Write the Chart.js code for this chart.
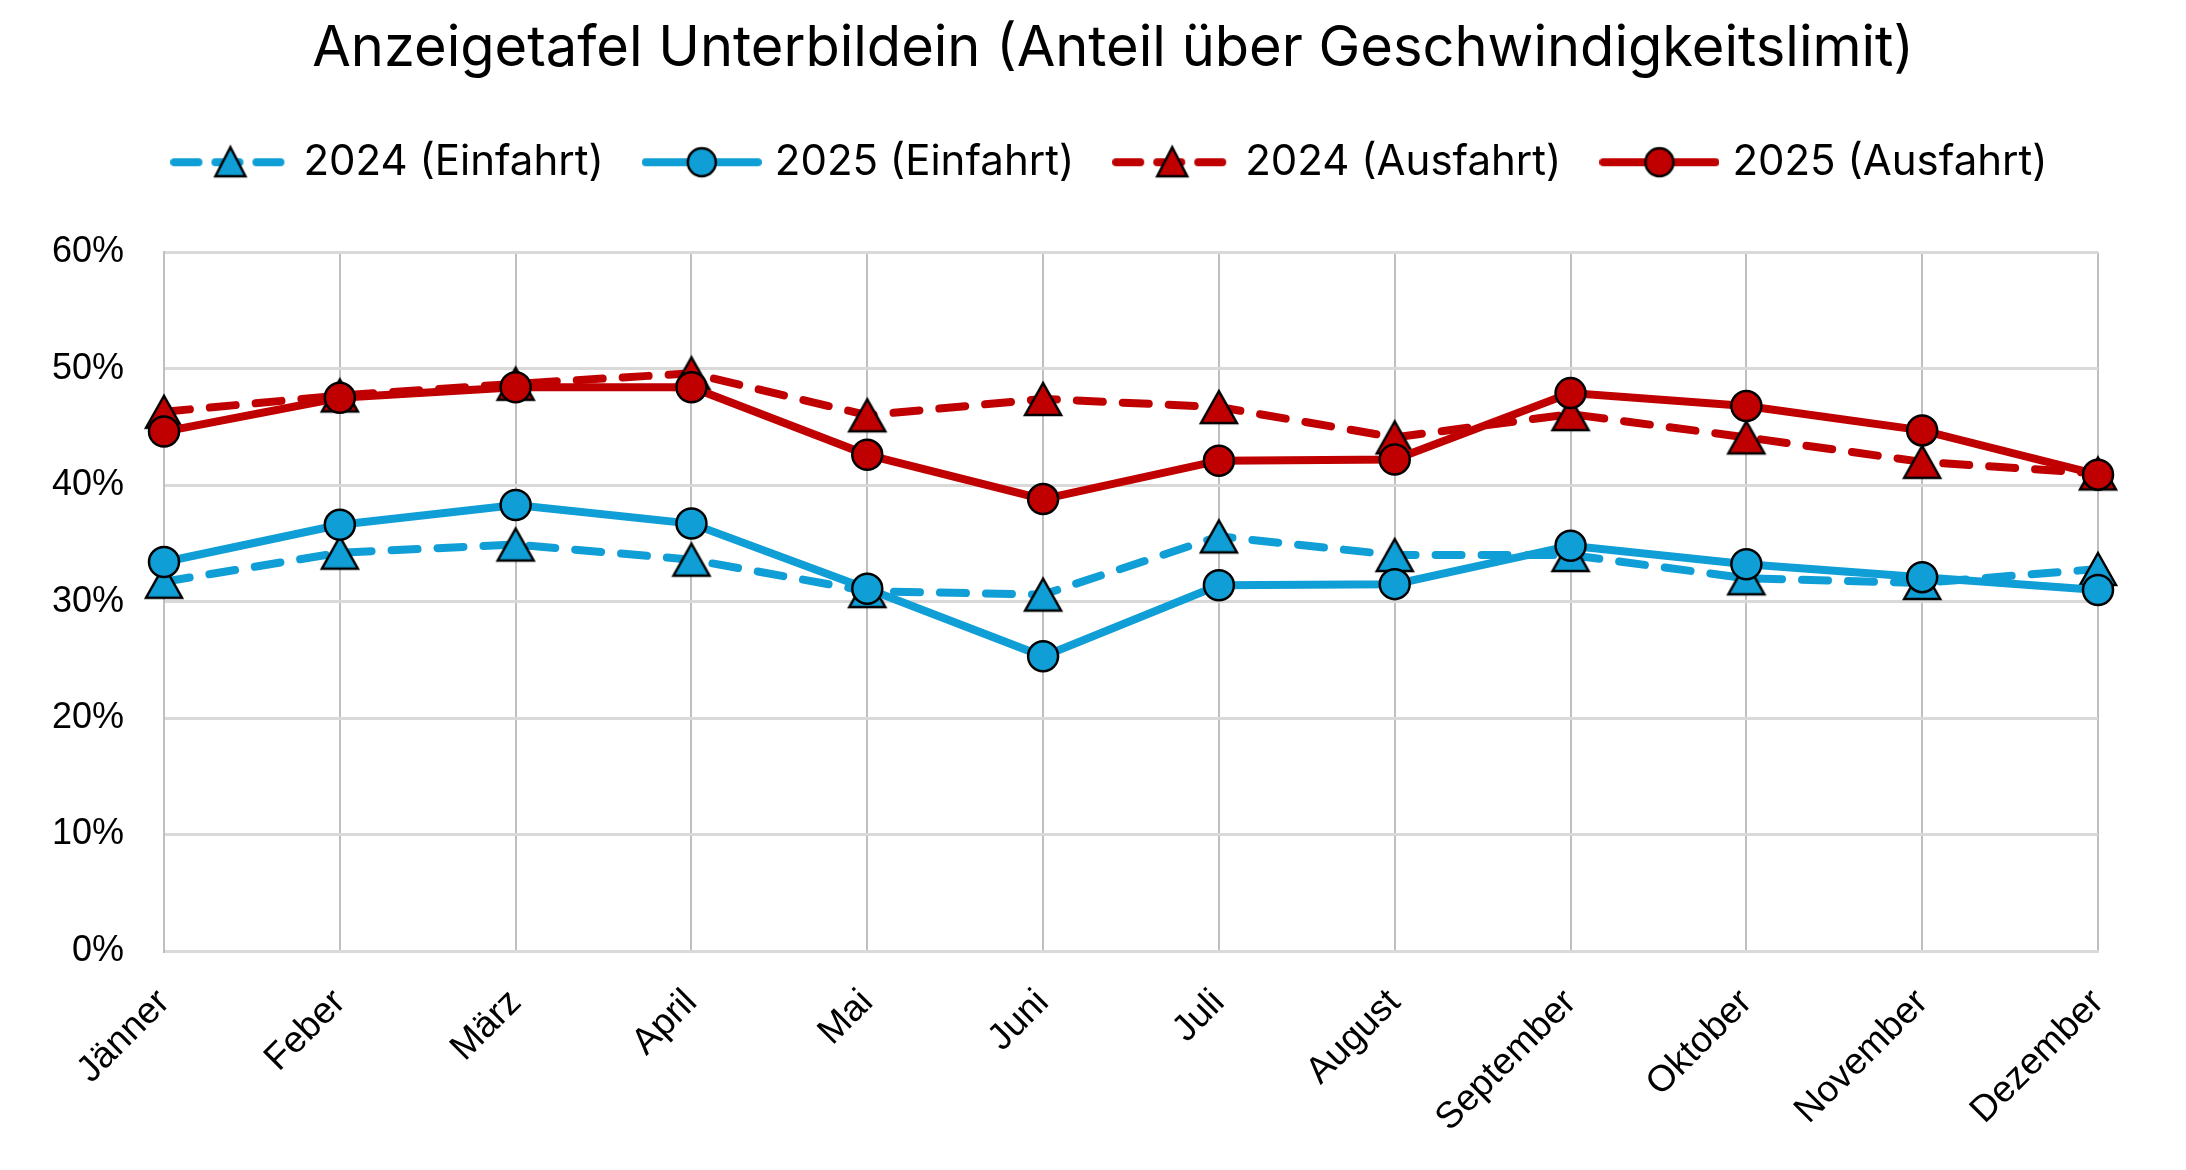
<!DOCTYPE html>
<html>
<head>
<meta charset="utf-8">
<script src="https://cdn.jsdelivr.net/npm/chart.js@4.4.1/dist/chart.umd.min.js"></script>
<style>
  html, body { margin: 0; padding: 0; background: #fff; }
  #wrap { width: 2186px; height: 1170px; }
</style>
</head>
<body>
<div id="wrap"><canvas id="chart"></canvas></div>
<script>
// ---- data (percent) ----
const months = ['Jänner', 'Feber', 'März', 'April', 'Mai', 'Juni', 'Juli', 'August', 'September', 'Oktober', 'November', 'Dezember'];
const ein2024 = [31.7, 34.2, 34.9, 33.6, 30.9, 30.6, 35.6, 34.0, 34.0, 32.0, 31.6, 32.8];
const ein2025 = [33.4, 36.6, 38.3, 36.7, 31.1, 25.3, 31.4, 31.5, 34.8, 33.2, 32.1, 31.0];
const aus2024 = [46.3, 47.7, 48.7, 49.6, 46.0, 47.4, 46.7, 44.1, 46.1, 44.1, 42.0, 41.0];
const aus2025 = [44.6, 47.5, 48.4, 48.4, 42.6, 38.8, 42.1, 42.2, 47.9, 46.8, 44.7, 40.9];
const yTicks = [0, 10, 20, 30, 40, 50, 60];

const BLUE = '#0F9ED5';
const RED = '#C00000';
const DASH = [26, 20];

// triangle marker, box-centred like in Excel
function triangleMarker(color) {
    const c = document.createElement('canvas');
    c.width = 42;
    c.height = 38;
    const g = c.getContext('2d');
    g.fillStyle = color;
    g.strokeStyle = '#000';
    g.lineWidth = 2.5;
    g.lineJoin = 'miter';
    g.beginPath();
    g.moveTo(21, 3);
    g.lineTo(39, 35);
    g.lineTo(3, 35);
    g.closePath();
    g.fill();
    g.stroke();
    return c;
}

// little picture of line + marker for the legend
function legendIcon(color, dashed, shape) {
    const c = document.createElement('canvas');
    c.width = 120;
    c.height = 44;
    const g = c.getContext('2d');
    g.strokeStyle = color;
    g.lineWidth = 8;
    g.lineCap = 'round';
    if (dashed) g.setLineDash([24, 17]);
    g.beginPath();
    g.moveTo(4, 22);
    g.lineTo(116, 22);
    g.stroke();
    g.setLineDash([]);
    g.fillStyle = color;
    g.strokeStyle = '#000';
    g.lineWidth = 2.5;
    g.beginPath();
    if (shape === 'triangle') {
        g.moveTo(60, 7);
        g.lineTo(75, 36);
        g.lineTo(45, 36);
        g.closePath();
    } else {
        g.arc(60, 22, 14, 0, Math.PI * 2);
    }
    g.fill();
    g.stroke();
    return c;
}

function series(label, data, color, dashed, shape, order) {
    return {
        label: label,
        data: data,
        borderColor: color,
        backgroundColor: color,
        borderWidth: 8,
        borderDash: dashed ? DASH : [],
        borderCapStyle: dashed ? 'round' : 'butt',
        tension: 0,
        pointStyle: shape === 'triangle' ? triangleMarker(color) : 'circle',
        pointRadius: shape === 'triangle' ? 18 : 15,
        pointBorderWidth: 2.5,
        pointBorderColor: '#000',
        pointBackgroundColor: color,
        order: order
    };
}

const icons = [
    legendIcon(BLUE, true, 'triangle'),
    legendIcon(BLUE, false, 'circle'),
    legendIcon(RED, true, 'triangle'),
    legendIcon(RED, false, 'circle')
];

// empty layout boxes: gap under the legend, margin right of the plot
function emptyBox(position, weight, size) {
    return {
        position: position, weight: weight, fullSize: position === 'top', options: {},
        top: 0, left: 0, right: 0, bottom: 0, width: 0, height: 0,
        isHorizontal() { return position === 'top'; },
        update(maxWidth, maxHeight) {
            if (position === 'top') { this.width = maxWidth; this.height = size; }
            else { this.width = size; this.height = maxHeight; }
        },
        draw() {}
    };
}
const spacer = {
    id: 'spacer',
    beforeInit(chart) {
        Chart.layouts.addBox(chart, emptyBox('top', 500, 59));
        Chart.layouts.addBox(chart, emptyBox('right', 500, 88));
    }
};

const ctx = document.getElementById('chart').getContext('2d');
new Chart(ctx, {
    type: 'line',
    data: {
        labels: months,
        datasets: [
            series('2024 (Einfahrt)', ein2024, BLUE, true, 'triangle', 4),
            series('2025 (Einfahrt)', ein2025, BLUE, false, 'circle', 2),
            series('2024 (Ausfahrt)', aus2024, RED, true, 'triangle', 3),
            series('2025 (Ausfahrt)', aus2025, RED, false, 'circle', 1)
        ]
    },
    plugins: [spacer],
    options: {
        responsive: true,
        maintainAspectRatio: false,
        animation: false,
        devicePixelRatio: 1,
        layout: { padding: { left: 40, right: 0, top: 0, bottom: 0 } },
        plugins: {
            title: {
                display: true,
                text: 'Anzeigetafel Unterbildein (Anteil über Geschwindigkeitslimit)',
                color: '#000',
                font: { family: 'Inter, "Noto Sans", sans-serif', size: 56, weight: 'normal' },
                padding: { top: 16, bottom: 12 }
            },
            legend: {
                display: true,
                position: 'top',
                labels: {
                    usePointStyle: true,
                    pointStyleWidth: 104,
                    padding: 46,
                    color: '#000',
                    font: { family: 'Inter, "Noto Sans", sans-serif', size: 42 },
                    generateLabels(chart) {
                        return chart.data.datasets.map((ds, i) => ({
                            text: ds.label,
                            pointStyle: icons[i],
                            fillStyle: ds.borderColor,
                            strokeStyle: ds.borderColor,
                            lineWidth: 0,
                            hidden: !chart.isDatasetVisible(i),
                            datasetIndex: i
                        }));
                    }
                }
            },
            tooltip: { enabled: false }
        },
        scales: {
            x: {
                offset: false,
                grid: { color: '#BFBFBF', lineWidth: 2, drawTicks: false },
                border: { display: true, color: '#D9D9D9', width: 3 },
                ticks: {
                    color: '#000',
                    font: { family: '"Liberation Sans", Arial, sans-serif', size: 37 },
                    maxRotation: 45,
                    minRotation: 45,
                    autoSkip: false,
                    padding: 30
                },
                afterFit(scale) { scale.height = 219; }
            },
            y: {
                min: 0,
                max: 60,
                afterBuildTicks(scale) { scale.ticks = yTicks.map(v => ({ value: v })); },
                grid: { color: '#D9D9D9', lineWidth: 3, drawTicks: false },
                border: { display: true, color: '#BFBFBF', width: 2 },
                ticks: {
                    color: '#000',
                    font: { family: '"Liberation Sans", Arial, sans-serif', size: 36 },
                    padding: 40,
                    callback: v => v + '%'
                },
                afterFit(scale) { scale.width = 124; }
            }
        }
    }
});
</script>
</body>
</html>
